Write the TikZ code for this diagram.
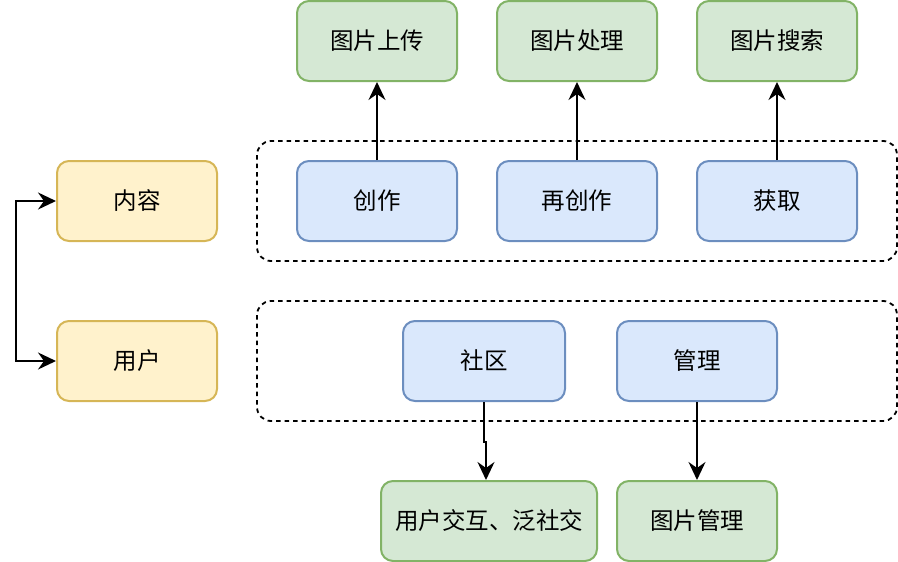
\documentclass[tikz,border=0pt]{standalone}
\usepackage{fontspec}
\newfontfamily\cjk{Noto Sans CJK SC}
\usetikzlibrary{arrows.meta}

\definecolor{greenfill}{HTML}{D5E8D4}
\definecolor{greenline}{HTML}{82B366}
\definecolor{bluefill}{HTML}{DAE8FC}
\definecolor{blueline}{HTML}{6C8EBF}
\definecolor{yellowfill}{HTML}{FFF2CC}
\definecolor{yellowline}{HTML}{D6B656}

\begin{document}
\begin{tikzpicture}[x=1pt,y=-1pt,
    box/.style={draw, rounded corners=12pt, line width=2pt, minimum width=160pt,
        minimum height=80pt, inner sep=0pt, font=\cjk\fontsize{23.5}{28}\selectfont},
    funcbox/.style={box, fill=bluefill, draw=blueline},
    resultbox/.style={box, fill=greenfill, draw=greenline},
    corebox/.style={box, fill=yellowfill, draw=yellowline},
    groupbox/.style={draw, dash pattern=on 4.5pt off 4pt, rounded corners=14pt, line width=1.8pt},
    tip/.tip={Stealth[length=18pt,width=17pt,inset=6pt]},
    link/.style={line width=2pt, -tip}]
    \useasboundingbox (0,0) rectangle (898,562);

    % dashed groups
    \draw [groupbox] (257,141) rectangle (897,261);
    \draw [groupbox] (257,301) rectangle (897,421);

    % top row
    \node [resultbox] (upload) at (377,41) {图片上传};
    \node [resultbox] (process) at (577,41) {图片处理};
    \node [resultbox] (search) at (777,41) {图片搜索};

    \node [funcbox] (create) at (377,201) {创作};
    \node [funcbox] (recreate) at (577,201) {再创作};
    \node [funcbox] (fetch) at (777,201) {获取};

    % left side
    \node [corebox] (content) at (137,201) {内容};
    \node [corebox] (user) at (137,361) {用户};

    % lower part
    \node [funcbox, minimum width=162pt] (community) at (484,361) {社区};
    \node [funcbox] (manage) at (697,361) {管理};
    \node [resultbox, minimum width=216pt] (interact) at (489,521) {用户交互、泛社交};
    \node [resultbox] (imgmanage) at (697,521) {图片管理};

    % connectors
    \draw [link] (create.north) -- (upload.south);
    \draw [link] (recreate.north) -- (process.south);
    \draw [link] (fetch.north) -- (search.south);
    \draw [link, tip-tip] (content.west) -- ++(-40,0) |- (user.west);
    \draw [link] (community.south) -- ++(0,40) -| ([xshift=-3pt]interact.north);
    \draw [link] (manage.south) -- (imgmanage.north);
\end{tikzpicture}
\end{document}
